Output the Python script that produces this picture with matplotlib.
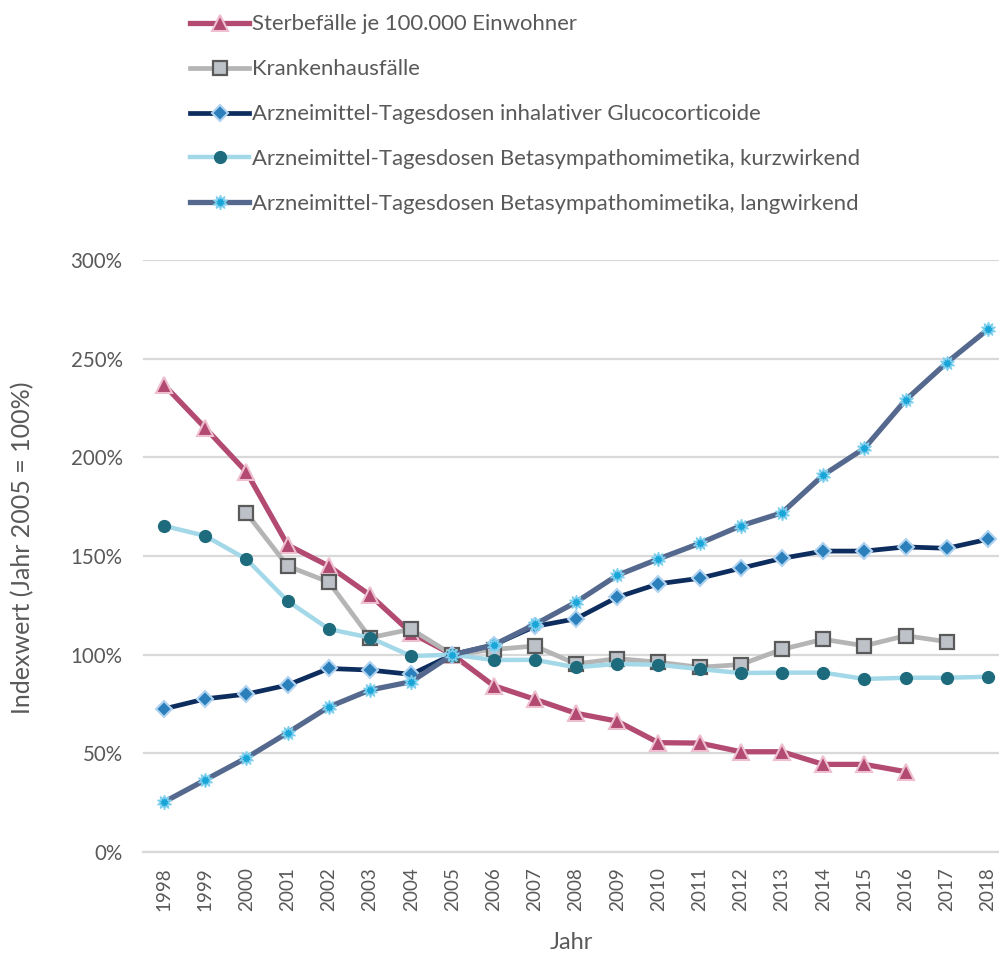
import numpy as np
import matplotlib
matplotlib.use("Agg")
import matplotlib.pyplot as plt
from matplotlib.ticker import FuncFormatter

# Data (index values, year 2005 = 100%)
years = list(range(1998, 2019))

sterbefaelle = [236.7, 214.9, 192.6, 155.6, 144.9, 130.2, 111.0, 100.0, 84.3, 77.4,
                70.3, 66.3, 55.4, 55.2, 50.8, 50.8, 44.4, 44.4, 40.7]
krankenhaus_years = list(range(2000, 2018))
krankenhaus = [171.8, 144.9, 136.8, 108.6, 112.9, 100.0, 102.6, 104.4, 95.3, 98.0,
               96.2, 93.6, 95.0, 102.7, 107.8, 104.5, 109.6, 106.6]
glucocorticoide = [72.5, 77.6, 80.0, 84.6, 93.0, 92.2, 90.0, 100.0, 104.9, 114.3,
                   118.2, 129.1, 135.9, 138.7, 143.8, 148.8, 152.5, 152.5, 154.6, 153.9, 158.5]
kurzwirkend = [165.3, 160.2, 148.4, 127.2, 113.0, 108.6, 99.3, 100.0, 97.3, 97.4,
               93.6, 95.3, 94.9, 92.7, 90.7, 90.9, 90.9, 87.7, 88.3, 88.3, 88.8]
langwirkend = [25.3, 36.5, 47.7, 60.4, 73.5, 82.1, 86.3, 100.0, 104.9, 115.3,
               126.6, 140.2, 148.5, 156.4, 165.3, 171.9, 191.0, 204.6, 229.0, 248.0, 264.9]

labels = ["Sterbefälle je 100.000 Einwohner",
          "Krankenhausfälle",
          "Arzneimittel-Tagesdosen inhalativer Glucocorticoide",
          "Arzneimittel-Tagesdosen Betasympathomimetika, kurzwirkend",
          "Arzneimittel-Tagesdosen Betasympathomimetika, langwirkend"]

plt.rcParams['font.family'] = ['Lato', 'DejaVu Sans']
text_col = '#595959'
grid_col = '#D9D9D9'

fig = plt.figure(figsize=(9.99, 9.55), dpi=100)
ax = fig.add_axes([143.4 / 999, 103 / 955, (999 - 143.4) / 999, 592 / 955])

# Series
ax.plot(years[:len(sterbefaelle)], sterbefaelle, color='#B24A71', lw=3.8,
        marker='^', ms=12, mfc='#B24A71', mec='#EDBFCF', mew=1.5,
        label=labels[0], zorder=3)
ax.plot(krankenhaus_years, krankenhaus, color='#B5B5B5', lw=3.4,
        marker='s', ms=10.5, mfc='#BDC1C8', mec='#5A5A5A', mew=1.6,
        label=labels[1], zorder=3)
ax.plot(years, glucocorticoide, color='#0C2D5E', lw=3.4,
        marker='D', ms=8, mfc='#2B80BC', mec='#B0D3F0', mew=1.5,
        label=labels[2], zorder=3)
ax.plot(years, kurzwirkend, color='#A2D8E8', lw=3.2,
        marker='o', ms=8.5, mfc='#1D6B7C', mec='#1D6B7C', mew=1,
        label=labels[3], zorder=3)
ax.plot(years, langwirkend, color='#55698F', lw=3.8,
        marker=(10, 1, 0), ms=10.5, mfc='#1AA5D8', mec='#7FD0EE', mew=1,
        label=labels[4], zorder=3)

# Axes
ax.set_xlim(1997.5, 2018 + 11 / 41.2)
ax.set_ylim(0, 300)
ax.set_yticks(np.arange(0, 301, 50))
ax.yaxis.set_major_formatter(FuncFormatter(lambda v, p: f"{v:.0f}%"))
ax.set_xticks(years)
ax.set_xticklabels([str(y) for y in years], rotation=90)
ax.grid(axis='y', color=grid_col, lw=1.6, zorder=0)
ax.set_axisbelow(True)
for s in ['top', 'right', 'left']:
    ax.spines[s].set_visible(False)
ax.spines['bottom'].set_color(grid_col)
ax.spines['bottom'].set_linewidth(1.6)
ax.tick_params(axis='both', length=0, labelcolor=text_col)
ax.tick_params(axis='y', pad=15, labelsize=14.8)
ax.tick_params(axis='x', pad=11, labelsize=13.6)

ax.set_ylabel("Indexwert (Jahr 2005 = 100%)", fontsize=18, color=text_col)
ax.yaxis.set_label_coords(-0.127, 0.514)
ax.set_xlabel("Jahr", fontsize=17, color=text_col, labelpad=15)

fig.legend(loc='upper left', bbox_to_anchor=(181 / 999, 1 - 5.5 / 955), frameon=False,
           fontsize=15.9, labelcolor=text_col, handlelength=2.7, handletextpad=0.1,
           labelspacing=1.13, borderaxespad=0)

fig.savefig("out.png", dpi=100)
